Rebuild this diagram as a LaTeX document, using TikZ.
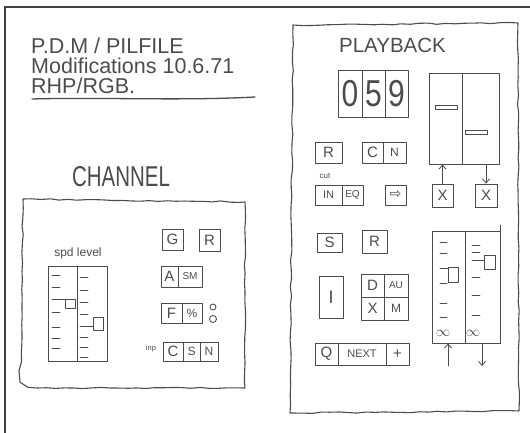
\documentclass[tikz,border=0pt]{standalone}
\usepackage{fontspec}
\setmainfont{Liberation Sans}
\newfontfamily\symfont{DejaVu Sans}
\usetikzlibrary{decorations.pathmorphing,arrows.meta}

\begin{document}
\begin{tikzpicture}[x=1pt, y=-1pt]
% Pencil sketch of the channel and playback panels
\providecommand{\sketchInk}{black!70}
\providecommand{\sketchLineWidth}{1.1pt}
\providecommand{\sketchThinWidth}{0.85pt}
\tikzset{
  ink/.style={draw=\sketchInk, line width=\sketchLineWidth, line cap=round, line join=round},
  wobbly/.style={ink, decorate, decoration={random steps, segment length=9pt, amplitude=0.7pt}},
  hand/.style={text=\sketchInk, inner sep=0pt},
  btn/.style={ink, line width=\sketchThinWidth, inner sep=0pt, text=\sketchInk, font=\fontsize{15}{15}\selectfont},
  tick/.style={ink, line width=\sketchThinWidth},
  arr/.style={ink, line width=\sketchThinWidth, -{Straight Barb[length=4pt, width=7pt]}},
}
\useasboundingbox (0,0) rectangle (530,433);
% Page edge
\draw[draw=black!75, line width=1.4pt] (5,433) -- (5,7) -- (530,7);
% Title block
\node[hand, anchor=north west, align=left, font=\fontsize{21.5}{20}\selectfont] (ttl) at (31,38)
  {P.D.M / PILFILE\\Modifications 10.6.71\\RHP/RGB.};
\draw[ink, line width=1.3pt] (32,99) .. controls (100,97) and (180,101) .. (255,97);

% ---------------- Channel panel ----------------
\node[hand, font=\fontsize{20.5}{20}\selectfont] (chTitle) at (121,177) {\scalebox{1}[1.4]{CHANNEL}};
\draw[wobbly] (23,199) -- (245,202) -- (245,388) -- (37,388) .. controls (25,387) and (21,381) .. (21,370) -- cycle;
% Fader pair
\node[hand, font=\fontsize{12}{12}\selectfont] (spdLbl) at (78,253) {spd level};
\begin{scope}[tick]
  \draw (48,266) rectangle (107,361);
  \draw (77,266) -- (77,361);
  % Left scale
  \draw (52,275) -- (60,275);
  \draw (52,287) -- (60,287);
  \draw (52,299) -- (65,299);
  \draw (52,312) -- (60,312);
  \draw (52,327) -- (60,327);
  \draw (52,338) -- (60,338);
  \draw (52,348) -- (60,348);
  \draw (65,299) rectangle (75,308);
  % Right scale
  \draw (80,277) -- (88,277);
  \draw (80,290) -- (88,290);
  \draw (80,302) -- (88,302);
  \draw (80,314) -- (88,314);
  \draw (80,326) -- (93,326);
  \draw (80,337) -- (88,337);
  \draw (80,347) -- (88,347);
  \draw (80,357) -- (88,357);
  \draw (93,317) rectangle (103,330);
\end{scope}
% Channel buttons
\node[btn, minimum width=21, minimum height=21] (chG) at (172.5,239.5) {G};
\node[btn, minimum width=21, minimum height=22] (chR) at (209.5,240.5) {R};
\node[btn, minimum width=17, minimum height=21] (chA) at (169.5,276.5) {A};
\node[btn, minimum width=24, minimum height=21, font=\fontsize{10}{10}\selectfont] (chSM) at (190,276.5) {SM};
\node[btn, minimum width=21, minimum height=20] (chF) at (171.5,313) {F};
\node[btn, minimum width=20, minimum height=20, font=\fontsize{12}{12}\selectfont] (chPct) at (192,313) {\%};
\draw[tick] (213,307) circle (3);
\draw[tick] (213,319) circle (3.5);
\node[hand, font=\fontsize{7.5}{7.5}\selectfont] (inpLbl) at (151,349) {inp};
\node[btn, minimum width=20, minimum height=19] (chC) at (173,351.5) {C};
\node[btn, minimum width=17, minimum height=19, font=\fontsize{12}{12}\selectfont] (chS) at (191.5,351.5) {S};
\node[btn, minimum width=18, minimum height=19, font=\fontsize{12}{12}\selectfont] (chN) at (209,351.5) {N};

% ---------------- Playback panel ----------------
\draw[wobbly] (293,25) -- (518,23) -- (519,411) -- (290,413) -- cycle;
\node[hand, font=\fontsize{20.5}{20}\selectfont] (pbTitle) at (392.5,45) {PLAYBACK};
% Counter
\node[btn, minimum width=24, minimum height=47, font=\fontsize{30}{30}\selectfont] (cntA) at (350,93.5) {\scalebox{1}[1.25]{0}};
\node[btn, minimum width=23, minimum height=47, font=\fontsize{30}{30}\selectfont] (cntB) at (373.5,93.5) {\scalebox{1}[1.25]{5}};
\node[btn, minimum width=23, minimum height=47, font=\fontsize{30}{30}\selectfont] (cntC) at (396.5,93.5) {\scalebox{1}[1.25]{9}};
% Level meter
\node[btn, minimum width=33, minimum height=91] (meterL) at (445.5,118.5) {};
\node[btn, minimum width=37, minimum height=91] (meterR) at (480.5,118.5) {};
\draw[tick] (435,105) rectangle (457,109);
\draw[tick] (465,130) rectangle (487,134);
% Buttons, upper rows
\node[btn, minimum width=27, minimum height=21] (pbR) at (328.5,152.5) {R};
\node[btn, minimum width=21, minimum height=21] (pbC) at (372.5,152.5) {C};
\node[btn, minimum width=23, minimum height=21, font=\fontsize{12}{12}\selectfont] (pbN) at (394.5,152.5) {N};
\node[hand, font=\fontsize{8}{8}\selectfont] (cutLbl) at (325,176) {cut};
\node[btn, minimum width=27, minimum height=20, font=\fontsize{11}{11}\selectfont] (pbIN) at (328.5,195) {IN};
\node[btn, minimum width=21, minimum height=20, font=\fontsize{10}{10}\selectfont] (pbEQ) at (352.5,195) {EQ};
\node[btn, minimum width=21, minimum height=20, font=\symfont\fontsize{14}{14}\selectfont] (pbGo) at (395.5,195) {⇨};
\node[btn, minimum width=21, minimum height=23] (xA) at (442.5,195.5) {X};
\node[btn, minimum width=22, minimum height=23] (xB) at (486,195.5) {X};
\draw[arr] (xA.north) -- (xA.north |- meterL.south);
\draw[arr] (xB.north |- meterR.south) -- (xB.north);
% Buttons, lower rows
\node[btn, minimum width=25, minimum height=19] (pbS) at (329.5,242.5) {S};
\node[btn, minimum width=25, minimum height=23] (pbR2) at (374.5,241.5) {R};
\node[btn, minimum width=24, minimum height=42, font=\fontsize{18}{18}\selectfont] (pbI) at (331,297) {I};
\node[btn, minimum width=23, minimum height=23] (pbD) at (372.5,285.5) {D};
\node[btn, minimum width=24, minimum height=23, font=\fontsize{10}{10}\selectfont] (pbAU) at (396,285.5) {AU};
\node[btn, minimum width=23, minimum height=23] (pbX) at (372.5,308.5) {X};
\node[btn, minimum width=24, minimum height=23, font=\fontsize{12}{12}\selectfont] (pbM) at (396,308.5) {M};
\node[btn, minimum width=23, minimum height=22] (pbQ) at (326.5,354) {Q};
\node[btn, minimum width=48, minimum height=22, font=\fontsize{11}{11}\selectfont] (pbNext) at (362,354) {NEXT};
\node[btn, minimum width=23, minimum height=22] (pbPlus) at (397.5,354) {+};
% Output faders
\node[btn, minimum width=33, minimum height=112] (faderL) at (448.5,287) {};
\node[btn, minimum width=35, minimum height=112] (faderR) at (482.5,287) {};
\draw[tick] (500,231) -- (500,225);
\begin{scope}[tick]
  % Left scale
  \draw (440,242) -- (447,242);
  \draw (440,253) -- (447,253);
  \draw (440,268) -- (448,268);
  \draw (440,283) -- (447,283);
  \draw (440,303) -- (447,303);
  \draw (440,317) -- (447,317);
  \draw (448,267) rectangle (458,282);
  % Right scale
  \draw (472,245) -- (480,245);
  \draw (472,252) -- (480,252);
  \draw (472,260) -- (484,260);
  \draw (472,277) -- (480,277);
  \draw (472,295) -- (480,295);
  \draw (472,315) -- (480,315);
  \draw (484,255) rectangle (495,269);
\end{scope}
\node[hand, font=\fontsize{14}{14}\selectfont] (infL) at (443,333) {$\infty$};
\node[hand, font=\fontsize{14}{14}\selectfont] (infR) at (473,333) {$\infty$};
\coordinate (upTail) at (448,366);
\coordinate (downTip) at (482,366);
\draw[arr] (upTail) -- (upTail |- faderL.south);
\draw[arr] (downTip |- faderR.south) -- (downTip);
\end{tikzpicture}
\end{document}
